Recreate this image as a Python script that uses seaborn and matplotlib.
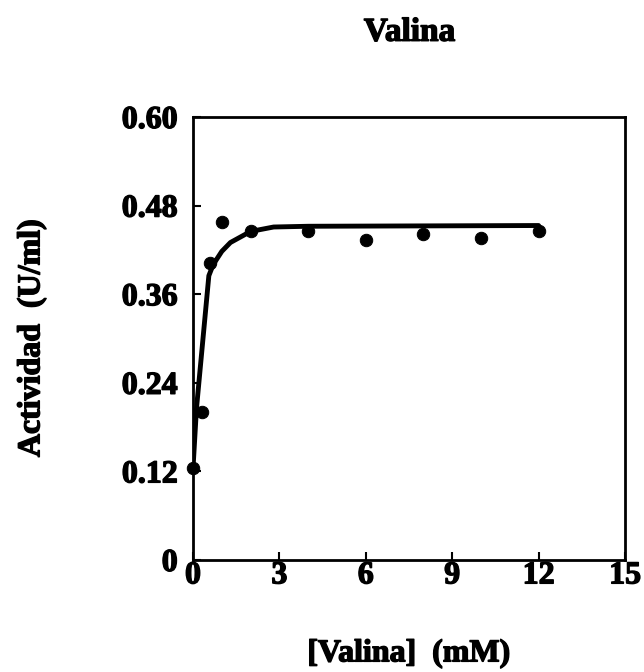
import matplotlib
matplotlib.use("Agg")
import matplotlib.pyplot as plt
import matplotlib.patheffects as pe
import seaborn as sns
import pandas as pd

# Data
conc = [0, 0.3, 0.6, 1, 2, 4, 6, 8, 10, 12]
activity = [0.124, 0.201, 0.402, 0.458, 0.446, 0.446, 0.434, 0.442, 0.436, 0.445]
fit_conc = [0, 0.12, 0.55, 0.7, 1.0, 1.3, 2.0, 2.8, 4, 12]
fit_activity = [0.124, 0.205, 0.385, 0.400, 0.418, 0.430, 0.445, 0.451, 0.452, 0.453]
x_ticks = [0, 3, 6, 9, 12, 15]
y_ticks = [0, 0.12, 0.24, 0.36, 0.48, 0.60]
y_tick_labels = ["0", "0.12", "0.24", "0.36", "0.48", "0.60"]

sns.set_theme(style="white")
plt.rcParams['font.family'] = ['Liberation Serif', 'DejaVu Serif']
plt.rcParams['font.weight'] = 'bold'
plt.rcParams['text.color'] = 'black'
plt.rcParams['axes.labelcolor'] = 'black'

heavy = [pe.withStroke(linewidth=1.0, foreground="black")]

fig = plt.figure(figsize=(6.44, 6.72), dpi=100)
ax = fig.add_axes([0.2997, 0.1667, 0.6708, 0.6592])

pts = pd.DataFrame({"conc": conc, "activity": activity})
fit = pd.DataFrame({"conc": fit_conc, "activity": fit_activity})

sns.lineplot(data=fit, x="conc", y="activity", ax=ax, color="black",
             linewidth=3.5, sort=False)
sns.scatterplot(data=pts, x="conc", y="activity", ax=ax, color="black",
                s=80, edgecolor="black", zorder=5, clip_on=False)

ax.set_xlim(0, 15)
ax.set_ylim(0, 0.6)
ax.set_xticks(x_ticks)
ax.set_xticklabels([str(t) for t in x_ticks])
ax.set_yticks(y_ticks)
ax.set_yticklabels(y_tick_labels)
ax.tick_params(direction="in", length=6, width=1.5, colors="black",
               labelsize=23, bottom=True, left=True)
ax.tick_params(axis="x", pad=1)
ax.tick_params(axis="y", pad=11)
for lab in ax.get_xticklabels() + ax.get_yticklabels():
    lab.set_fontweight("bold")
    lab.set_color("black")
    lab.set_path_effects(heavy)
for s in ax.spines.values():
    s.set_linewidth(2)
    s.set_color("black")

ax.set_xlabel("[Valina]  (mM)", fontsize=23, fontweight="bold", color="black",
              va="center", ha="center", path_effects=heavy)
ax.xaxis.set_label_coords(0.5, -0.212)
ax.set_ylabel("Actividad  (U/ml)", fontsize=23, fontweight="bold", color="black",
              va="center", ha="center", path_effects=heavy)
ax.yaxis.set_label_coords(-0.373, 0.501)
fig.text(0.636, 0.952, "Valina", ha="center", va="center",
         fontsize=24, fontweight="bold", color="black", path_effects=heavy)

fig.savefig("out.png", dpi=100)
